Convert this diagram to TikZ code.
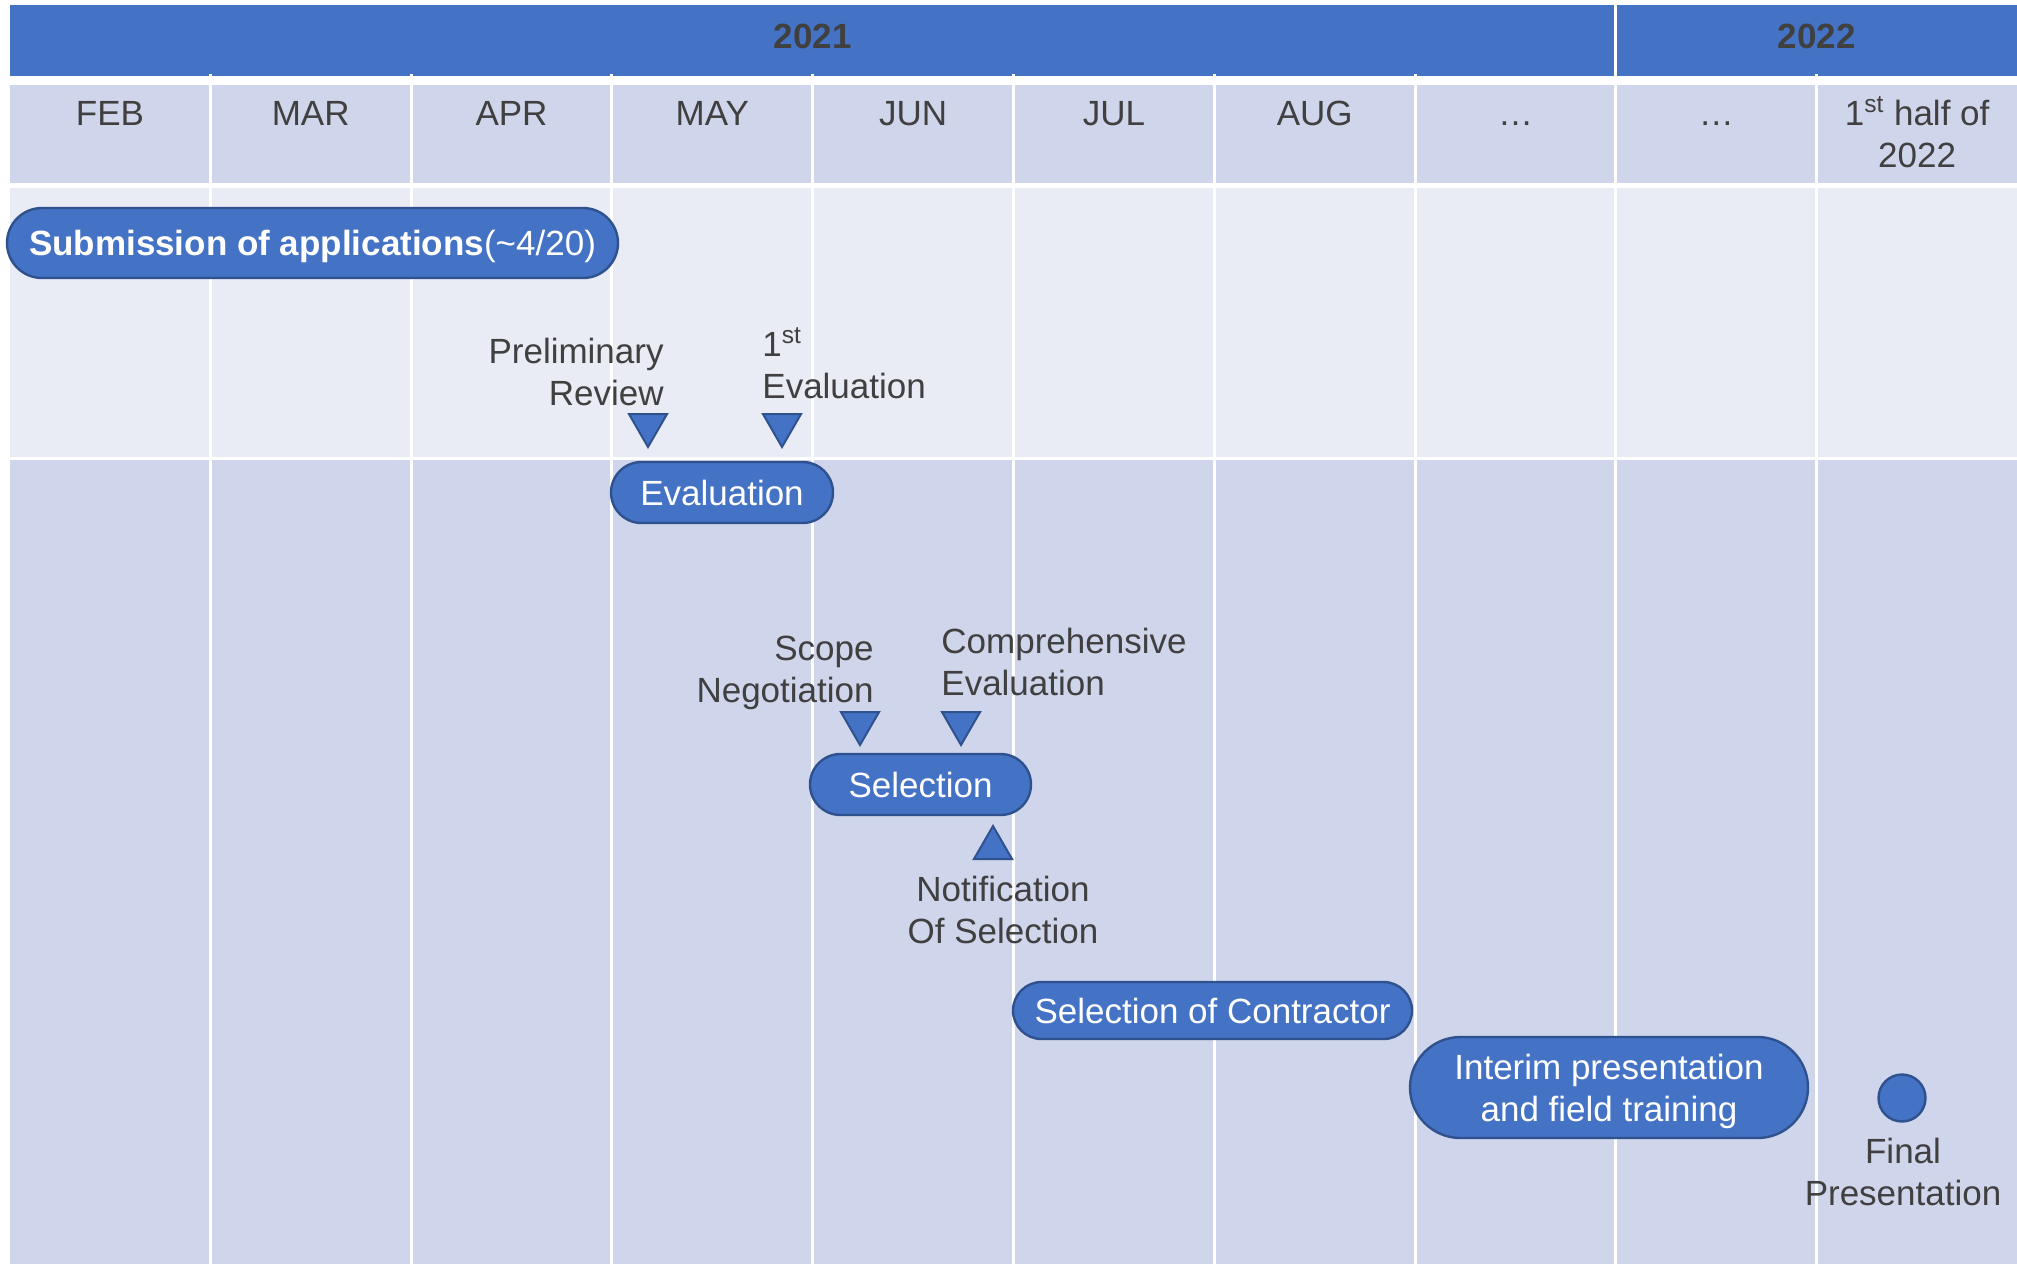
\documentclass[tikz,border=0pt]{standalone}
\usepackage{fontspec}
\setmainfont{Liberation Sans}
\usetikzlibrary{shapes.geometric,shapes.misc}
\definecolor{barblue}{HTML}{4472C4}
\definecolor{pilledge}{HTML}{2F528F}
\definecolor{rowdark}{HTML}{CFD5EA}
\definecolor{rowlight}{HTML}{E9EBF5}
\definecolor{txtgray}{HTML}{404040}
\tikzset{%
  pill/.style     = {shape=rounded rectangle, draw=pilledge, line width=1.2pt,%
                     fill=barblue, text=white, inner sep=0pt, align=center,%
                     text depth=0pt, font=\fontsize{17.5pt}{21pt}\selectfont},%
  note/.style     = {text=txtgray, inner sep=0pt,%
                     font=\fontsize{17.5pt}{21pt}\selectfont},%
  marker/.style   = {regular polygon, regular polygon sides=3, draw=pilledge,%
                     line width=1pt, fill=barblue, inner sep=0pt, minimum size=22pt},%
  markdown/.style = {marker, shape border rotate=180}%
}

\begin{document}
\begin{tikzpicture}[x=0.5pt,y=-0.5pt]
	\fill[white] (0,0) rectangle (2017,1264);
	\useasboundingbox (0,0) rectangle (2017,1264);
	% year bar and rows
	\fill[barblue] (9.5,5) rectangle (2017,76);
	\fill[rowdark] (9.5,85) rectangle (2017,183);
	\fill[rowlight] (9.5,188) rectangle (2017,457);
	\fill[rowdark] (9.5,460) rectangle (2017,1264);
	\foreach \i in {1,...,9}
		\draw[white, line width=1.5pt] ({9.5+200.8*\i},74) -- ({9.5+200.8*\i},1264);
	\draw[white, line width=1.5pt] ({9.5+200.8*8},5) -- ({9.5+200.8*8},76);
	\node[note, font=\bfseries\fontsize{17.5pt}{21pt}\selectfont, anchor=base] (y2021) at ({9.5+200.8*4},48) {2021};
	\node[note, font=\bfseries\fontsize{17.5pt}{21pt}\selectfont, anchor=base] (y2022) at ({9.5+200.8*9},48) {2022};
	\foreach \m [count=\i from 0] in {FEB,MAR,APR,MAY,JUN,JUL,AUG,…,…}
		\node[note, anchor=base] (m\i) at ({9.5+200.8*(\i+0.5)},125) {\m};
	\node[note, anchor=base, align=center] (m9) at ({9.5+200.8*9.5},167) {1\textsuperscript{st} half of\\2022};
	% applications and evaluation
	\node[pill, minimum width=305.5pt, minimum height=35pt] (submit) at (312.5,243)
		{\textbf{Submission of applications}(\textasciitilde4/20)};
	\node[markdown] (prelim) at (648,425) {};
	\node[markdown] (first) at (782,425) {};
	\node[note, anchor=base east, align=right] (prelimtxt) at (664,405) {Preliminary\\Review};
	\node[note, anchor=base west, align=left] (firsttxt) at (762,398) {1\textsuperscript{st}\\Evaluation};
	\node[pill, minimum width=111pt, minimum height=30.5pt] (eval) at (722,492.5) {Evaluation};
	% selection
	\node[markdown] (scope) at (860,723) {};
	\node[markdown] (compr) at (961,723) {};
	\node[note, anchor=base east, align=right] (scopetxt) at (874,702) {Scope\\Negotiation};
	\node[note, anchor=base west, align=left] (comprtxt) at (941,695) {Comprehensive\\Evaluation};
	\node[pill, minimum width=110.5pt, minimum height=30.5pt] (select) at (920.5,784.5) {Selection};
	\node[marker] (notify) at (993,848) {};
	\node[note, anchor=base, align=center] (notifytxt) at (1003,943) {Notification\\Of Selection};
	% contract and presentations
	\node[pill, minimum width=199.5pt, minimum height=28.5pt] (contract) at (1212.5,1010.5) {Selection of Contractor};
	\node[pill, minimum width=199pt, minimum height=50.5pt] (interim) at (1609,1087.5) {Interim presentation\\and field training};
	\node[circle, draw=pilledge, line width=1.2pt, fill=barblue, inner sep=0pt, minimum size=23.5pt] (final) at (1902,1098) {};
	\node[note, anchor=base, align=center] (finaltxt) at (1903,1205) {Final\\Presentation};
\end{tikzpicture}
\end{document}
